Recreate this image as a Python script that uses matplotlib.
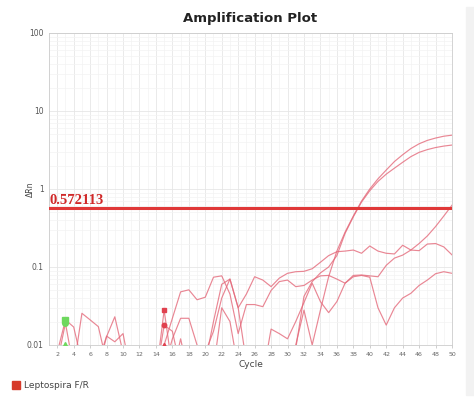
import matplotlib.pyplot as plt
import numpy as np
from matplotlib.ticker import FixedLocator, NullFormatter
from matplotlib.patches import Rectangle

cycles = np.arange(1, 51)
threshold = 0.572113

# delta Rn per well, cycles 1..50 (values < 0.01 fall below the axis)
well_a = [0.004, 0.008, 0.021, 0.017, 0.006, 0.004, 0.004, 0.004, 0.004, 0.004,
          0.004, 0.004, 0.004, 0.004, 0.028, 0.005, 0.004, 0.004, 0.004, 0.004,
          0.004, 0.004, 0.004, 0.004, 0.004, 0.004, 0.004, 0.004, 0.004, 0.004,
          0.010, 0.028, 0.010, 0.028, 0.075, 0.160, 0.280, 0.450, 0.700, 1.000,
          1.35, 1.75, 2.25, 2.75, 3.30, 3.80, 4.20, 4.50, 4.75, 4.90]
well_b = [0.004, 0.006, 0.019, 0.005, 0.0255, 0.021, 0.0172, 0.006, 0.004, 0.004,
          0.004, 0.004, 0.004, 0.004, 0.018, 0.015, 0.005, 0.004, 0.004, 0.004,
          0.004, 0.004, 0.004, 0.004, 0.004, 0.004, 0.004, 0.004, 0.004, 0.005,
          0.009, 0.042, 0.065, 0.084, 0.100, 0.140, 0.270, 0.440, 0.680, 0.950,
          1.25, 1.55, 1.85, 2.20, 2.60, 2.95, 3.20, 3.40, 3.55, 3.66]
well_c = [0.004, 0.004, 0.010, 0.004, 0.004, 0.004, 0.005, 0.0128, 0.023, 0.008,
          0.004, 0.004, 0.004, 0.004, 0.010, 0.022, 0.048, 0.051, 0.038, 0.041,
          0.074, 0.077, 0.045, 0.014, 0.033, 0.033, 0.031, 0.050, 0.065, 0.068,
          0.056, 0.058, 0.068, 0.077, 0.078, 0.070, 0.062, 0.078, 0.079, 0.077,
          0.075, 0.105, 0.130, 0.142, 0.165, 0.200, 0.250, 0.330, 0.450, 0.620]
well_d = [0.004, 0.004, 0.004, 0.004, 0.004, 0.004, 0.006, 0.013, 0.011, 0.014,
          0.004, 0.004, 0.004, 0.004, 0.005, 0.012, 0.022, 0.022, 0.010, 0.006,
          0.020, 0.060, 0.070, 0.030, 0.045, 0.075, 0.068, 0.056, 0.072, 0.083,
          0.087, 0.088, 0.095, 0.115, 0.140, 0.157, 0.160, 0.165, 0.150, 0.186,
          0.160, 0.150, 0.147, 0.190, 0.165, 0.162, 0.197, 0.200, 0.181, 0.143]
well_e = [0.004, 0.004, 0.004, 0.004, 0.004, 0.004, 0.004, 0.004, 0.004, 0.004,
          0.004, 0.004, 0.004, 0.004, 0.004, 0.004, 0.004, 0.004, 0.004, 0.008,
          0.015, 0.040, 0.070, 0.030, 0.006, 0.004, 0.004, 0.016, 0.014, 0.012,
          0.020, 0.035, 0.062, 0.036, 0.026, 0.036, 0.062, 0.075, 0.078, 0.074,
          0.030, 0.018, 0.030, 0.040, 0.046, 0.058, 0.068, 0.082, 0.087, 0.083]
well_f = [0.004, 0.004, 0.004, 0.004, 0.004, 0.004, 0.004, 0.004, 0.004, 0.004,
          0.004, 0.004, 0.004, 0.004, 0.004, 0.004, 0.012, 0.004, 0.004, 0.004,
          0.005, 0.030, 0.020, 0.005, 0.004, 0.004, 0.004, 0.004, 0.004, 0.004,
          0.004, 0.004, 0.004, 0.004, 0.004, 0.004, 0.004, 0.004, 0.004, 0.004,
          0.004, 0.004, 0.004, 0.004, 0.004, 0.004, 0.004, 0.004, 0.004, 0.004]
wells = [well_a, well_b, well_c, well_d, well_e, well_f]

start_cycle = 3   # green baseline markers
end_cycle = 15    # red baseline markers
marker_wells = [well_a, well_b, well_c]
marker_shapes = ['s', 'o', '^']

fig = plt.figure(figsize=(4.74, 4.0), dpi=100)
ax = fig.add_axes([0.1034, 0.1375, 0.8502, 0.78])

for w in wells:
    ax.plot(cycles, w, color='#e4697a', lw=0.85, alpha=0.8)

for w, m in zip(marker_wells, marker_shapes):
    ax.plot(start_cycle, w[start_cycle - 1], m, color='#6ed85e', ms=4, zorder=4)
    ax.plot(end_cycle, w[end_cycle - 1], m, color='#e0404e', ms=3.2, zorder=4)

ax.axhline(threshold, color='#e03838', lw=2.2, zorder=5)
ax.text(1.1, threshold * 1.03, f'{threshold:g}', color='#d02828', fontsize=10.5,
        family='Liberation Serif', fontweight='bold', va='bottom', ha='left', zorder=6)

ax.set_yscale('log')
ax.set_ylim(0.01, 100)
ax.set_xlim(1, 50)
ax.set_yticks([0.01, 0.1, 1, 10, 100])
ax.set_yticklabels(['0.01', '0.1', '1', '10', '100'])
ax.yaxis.set_minor_formatter(NullFormatter())
ax.set_xticks(np.arange(2, 51, 2))
ax.xaxis.set_minor_locator(FixedLocator(np.arange(1, 51, 1)))
ax.tick_params(axis='y', which='both', length=0, labelsize=5.5, labelcolor='#555555', pad=4)
ax.tick_params(axis='x', which='major', length=2, width=0.5, color='#bbbbbb',
               labelsize=4.5, labelcolor='#666666', pad=3)
ax.tick_params(axis='x', which='minor', length=0)

ax.grid(True, which='major', color='#e6e6e6', lw=0.6)
ax.grid(True, which='minor', color='#f3f3f3', lw=0.5)
ax.set_axisbelow(True)
for s in ax.spines.values():
    s.set_color('#cccccc')
    s.set_linewidth(0.6)

ax.set_title('Amplification Plot', fontsize=9.5, fontweight='bold', color='#222222', pad=8)
ax.set_xlabel('Cycle', fontsize=6.5, color='#444444', labelpad=2)
ax.set_ylabel('ΔRn', fontsize=5.5, color='#444444')
ax.yaxis.set_label_coords(-0.035, 0.5)

# legend swatch
fig.patches.append(Rectangle((12 / 474, 1 - 389 / 400), 8 / 474, 8 / 400,
                             transform=fig.transFigure, color='#d63a2a'))
fig.text(24 / 474, 1 - 385 / 400, 'Leptospira F/R', fontsize=6.5, color='#444444', va='center')

# side panel
fig.patches.append(Rectangle((466 / 474, 1 - 395 / 400), 8 / 474, 388 / 400,
                             transform=fig.transFigure, color='#f2f2f2'))

fig.savefig('out.png', dpi=100)
